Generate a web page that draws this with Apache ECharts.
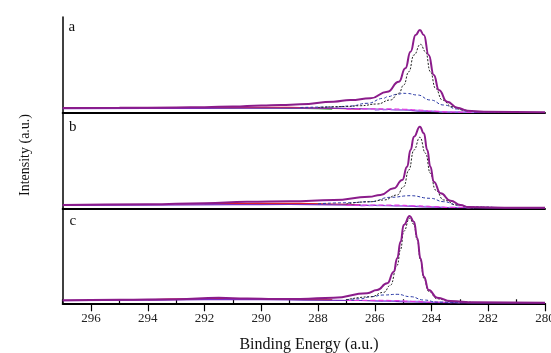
<!DOCTYPE html>
<html><head><meta charset="utf-8">
<script src="https://cdn.jsdelivr.net/npm/echarts@6/dist/echarts.min.js"></script>
<style>html,body{margin:0;padding:0;background:#fff}#c{width:551px;height:353px}</style>
</head><body><div id="c"></div>
<script>
// ---------- data (binding energy eV, intensity in arbitrary units) ----------
const panelNames = ['a', 'b', 'c'];
const tickValues = [280, 282, 284, 286, 288, 290, 292, 294, 296];
const tickLabels = ['280', '282', '284', '286', '288', '290', '292', '294', '296'];
const minorTickValues = [281, 283, 285, 287, 289, 291, 293, 295, 297];
const xTitle = 'Binding Energy (a.u.)';
const yTitle = 'Intensity (a.u.)';

// panel a
const aEnvelope = [[297,5],[295,5.2],[293,5.5],[292,5.8],[291,6.5],[290,7.5],[289.3,8],[288.62,8.7],[287.45,11.3],[286.86,13],[286.15,14.7],[285.56,21.3],[285.15,31.3],[284.92,44.7],[284.74,61.3],[284.56,78],[284.41,83],[284.27,78],[284.1,58],[283.92,38],[283.74,23],[283.45,11.3],[283.09,5.3],[282.74,2.3],[282.15,1.3],[280,0.7]];
const aComp1 = [[288,5.5],[287,6.5],[286.5,7.3],[285.92,9],[285.45,13],[285.15,19.7],[284.98,28],[284.8,41.3],[284.62,58],[284.39,68.7],[284.21,61.3],[284.04,41.3],[283.86,24.7],[283.62,13],[283.28,6.3],[282.9,3],[282.4,1.5],[281.5,0.8]];
const aComp2 = [[288.62,5.5],[287.45,6],[286.86,7],[286.27,9.7],[285.68,14.7],[285.56,16.3],[285.21,18.7],[284.98,19.7],[284.85,19.5],[284.5,18],[284.04,13],[283.57,8],[283.09,4],[282.74,2],[282.2,1],[281,0.6]];
const aBackground = [[297,4.3],[294,4.5],[291,4.8],[289,5],[287.5,4.8],[286,4],[285,3],[284.3,1.8],[283.5,0.9],[282,0.5],[280,0.5]];
const aComp3 = [[287,3.8],[286.2,4.2],[285.5,4.2],[285,3.8],[284.5,3],[284,2],[283.3,1],[282.5,0.6]];
const aComp4 = [[286,2.8],[285.3,3.3],[284.8,3.2],[284.3,2.5],[283.5,1.2],[282.5,0.6]];
const aComp5 = [[293,5],[291,5.3],[290,5.6],[289,5.6],[288.3,5.2],[287.5,4.6],[286.5,3.8]];
const aComp6 = [[293,4.6],[291.5,4.8],[290.5,5],[289.5,4.9],[288.5,4.5],[287.5,3.8]];

// panel b
const bEnvelope = [[297,3.3],[294,4],[292,5],[290.5,6.6],[289,7],[287.45,8.3],[286.2,11.5],[285.8,13.3],[285.33,20],[285.03,28.3],[284.86,41.6],[284.74,58.3],[284.62,71.6],[284.41,81.6],[284.27,75],[284.15,58.3],[284.04,41.6],[283.92,26.6],[283.68,15],[283.33,7.6],[282.98,3.3],[282.7,1.2],[281,0.6],[280,0.6]];
const bComp1 = [[287,4.5],[286.2,6.5],[285.68,8.3],[285.21,13.3],[284.98,21.6],[284.8,38.3],[284.62,58.3],[284.41,71],[284.21,55],[284.04,35],[283.86,18.3],[283.57,8.3],[283.1,3.3],[282.6,1.2],[281.5,0.6]];
const bComp2 = [[288,4.5],[287,5.5],[286.15,6.6],[285.45,11],[284.74,12.6],[284.04,10],[283.57,6.6],[283.1,3.3],[282.6,1.3],[281.5,0.6]];
const bBackground = [[297,2.8],[294,3.2],[291,3.6],[289,3.8],[287.5,3.5],[286,3],[285,2.3],[284.3,1.4],[283.5,0.8],[282,0.5],[280,0.5]];
const bComp3 = [[287,3],[286,3.3],[285.3,3.2],[284.6,2.5],[284,1.7],[283.3,0.9],[282.5,0.6]];
const bComp4 = [[286.5,2.5],[285.5,2.8],[284.8,2.6],[284.2,2],[283.5,1],[282.5,0.6]];
const bComp5 = [[293,4.3],[291,4.6],[290,5],[289,5],[288.3,4.7],[287.5,4.2],[286.5,3.5]];
const bComp6 = [[292,4.4],[290.5,4.8],[289.5,4.8],[288.5,4.4],[287.5,3.8]];

// panel c
const cEnvelope = [[297,3],[295,3.5],[293,4],[291.5,5.5],[290.5,4.8],[289.5,4.2],[288.62,4.3],[287.45,5.6],[286.27,10],[285.92,13.3],[285.56,20],[285.33,31.6],[285.21,45],[285.09,61.6],[284.98,78.3],[284.77,87.3],[284.62,81.6],[284.5,65],[284.39,45],[284.27,26.6],[284.1,13.3],[283.8,5.6],[283.33,2.3],[282.5,1],[280,0.6]];
const cComp1 = [[287,3.5],[286.15,6.5],[285.68,11],[285.45,18],[285.21,38],[285.09,54],[284.98,72],[284.77,85],[284.62,79],[284.5,63],[284.39,43],[284.27,25],[284.1,12],[283.8,4.5],[283.33,1.8],[282.5,0.8]];
const cComp2 = [[287,3.5],[286.5,4.5],[286.15,6.6],[285.68,8.3],[285.21,9],[284.74,6.6],[284.27,3.3],[283.8,1.2],[283,0.6]];
const cBackground = [[297,2.7],[294,3.2],[292,3.6],[290,3.6],[288,3.2],[286.5,2.8],[285.5,2.2],[284.7,1.3],[284,0.8],[282.5,0.5],[280,0.5]];
const cComp3 = [[287,2.8],[286,3],[285.3,2.8],[284.7,2],[284,1.2],[283.3,0.7]];
const cComp4 = [[286,2.2],[285.2,2.4],[284.6,2],[284,1.2],[283,0.6]];
const cComp5 = [[294,3.5],[292.5,4.5],[291.5,5],[290.5,4.6],[289.5,4],[288.5,3.8],[287.5,3.5]];
const cComp6 = [[292,3.8],[290.5,4],[289,3.8],[287.5,3.3]];

const panels = [
  {env: aEnvelope, c1: aComp1, c2: aComp2, bg: aBackground, c3: aComp3, c4: aComp4, c5: aComp5, c6: aComp6},
  {env: bEnvelope, c1: bComp1, c2: bComp2, bg: bBackground, c3: bComp3, c4: bComp4, c5: bComp5, c6: bComp6},
  {env: cEnvelope, c1: cComp1, c2: cComp2, bg: cBackground, c3: cComp3, c4: cComp4, c5: cComp5, c6: cComp6}
];

// ---------- layout / style ----------
const FONT = '"Liberation Serif", "DejaVu Serif", serif';
const gridsPx = [{top: 17, height: 96}, {top: 113, height: 95.3}, {top: 208.3, height: 95}];
const LEFT = 62.7, RIGHT = 6;

const grid = gridsPx.map(g => ({left: LEFT, right: RIGHT, top: g.top, height: g.height, containLabel: false, outerBoundsMode: 'none'}));

const xAxis = gridsPx.map((g, i) => ({
  type: 'value', gridIndex: i, min: 280, max: 297, inverse: true,
  axisLine: {show: true, onZero: false, lineStyle: {color: '#000', width: 2}},
  axisTick: i === 2 ? {show: true, customValues: tickValues, length: 8, inside: false, lineStyle: {color: '#000', width: 1.2}} : {show: false},
  axisLabel: i === 2 ? {show: true, customValues: tickValues, margin: 9, fontFamily: FONT, fontSize: 13, color: '#222',
      formatter: v => tickLabels[tickValues.indexOf(v)]} : {show: false},
  splitLine: {show: false}
}));
xAxis.push({
  type: 'value', gridIndex: 2, min: 280, max: 297, inverse: true,
  axisLine: {show: false},
  axisTick: {show: true, customValues: minorTickValues, length: 4, lineStyle: {color: '#000', width: 1.2}},
  axisLabel: {show: false}, splitLine: {show: false}
});

const yAxis = gridsPx.map((g, i) => ({
  type: 'value', gridIndex: i, min: 0, max: g.height,
  axisLine: {show: true, onZero: false, lineStyle: {color: '#000', width: 1.5}},
  axisTick: {show: false}, axisLabel: {show: false}, splitLine: {show: false}
}));

const styles = [
  {key: 'c6', color: '#2e9a2e', type: 'solid', width: 1.2},
  {key: 'c5', color: '#e0202a', type: 'solid', width: 1.2},
  {key: 'bg', color: '#7a2fc4', type: 'solid', width: 1.2},
  {key: 'c4', color: '#a77ef0', type: [5, 3], width: 1.2},
  {key: 'c3', color: '#e23ae2', type: [5, 3], width: 1.2},
  {key: 'c2', color: '#2b3aa6', type: [3, 2], width: 1},
  {key: 'c1', color: '#222222', type: [2, 1.5], width: 1},
  {key: 'env', color: '#8b1c8b', type: 'solid', width: 2}
];

const series = [];
panels.forEach((p, i) => {
  styles.forEach(s => {
    series.push({
      type: 'line', xAxisIndex: i, yAxisIndex: i, data: p[s.key],
      showSymbol: false, symbol: 'none', smooth: 0.5, smoothMonotone: 'x',
      lineStyle: {color: s.color, type: s.type, width: s.width}, z: 3
    });
  });
});

const labelPos = [{x: 72.5, y: 29}, {x: 73, y: 128.5}, {x: 73.5, y: 222.5}];
const graphic = panelNames.map((n, i) => ({
  type: 'text', left: labelPos[i].x - 4, top: labelPos[i].y - 9,
  style: {text: n, font: '15px ' + FONT, fill: '#111'}
}));
graphic.push({
  type: 'text', x: 309, y: 345, style: {text: xTitle, font: '16px ' + FONT, fill: '#111', align: 'center', verticalAlign: 'middle'}
});
graphic.push({
  type: 'text', x: 25, y: 155, rotation: Math.PI / 2,
  style: {text: yTitle, font: '14px ' + FONT, fill: '#111', align: 'center', verticalAlign: 'middle'}
});

const chart = echarts.init(document.getElementById('c'), null, {renderer: 'canvas'});
chart.setOption({animation: false, backgroundColor: '#fff', grid, xAxis, yAxis, series, graphic});
</script>
</body></html>
